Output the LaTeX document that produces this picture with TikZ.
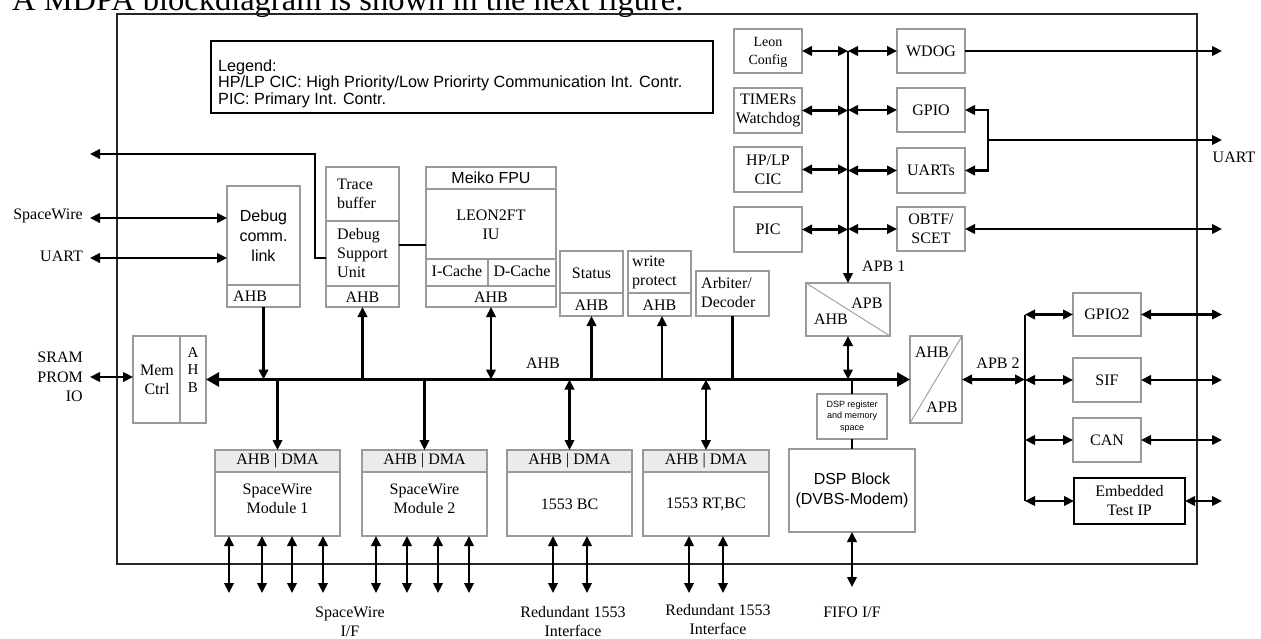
\documentclass[tikz,border=0pt]{standalone}
\usepackage{fontspec}
\setmainfont{Liberation Serif}
\setsansfont{Liberation Sans}
\usetikzlibrary{arrows.meta}
\definecolor{boxgray}{HTML}{9A9A9A}
\definecolor{hdrgray}{HTML}{EBEBEB}
\newcommand\bx[6][]{\node[box,anchor=north west,minimum width={#4pt-#2pt},minimum height={#5pt-#3pt},#1] (#6) at (#2,#3) {};}
\begin{document}
\begin{tikzpicture}[x=1pt,y=-1pt,
 box/.style={draw=boxgray,line width=1.1pt,inner sep=0pt,outer sep=0pt},
 >={Triangle[length=10pt,width=9.5pt]},
 wire/.style={line width=2.2pt},
 buswire/.style={line width=2.6pt,{Triangle[length=13pt,width=14pt]}-{Triangle[length=13pt,width=14pt]}},
 diag/.style={draw=boxgray,line width=0.9pt},
 txt/.style={font=\fontsize{16}{19}\selectfont,inner sep=0pt,align=center},
 tl/.style={txt,align=left,anchor=west},
 stxt/.style={font=\sffamily\fontsize{16}{20}\selectfont,inner sep=0pt,align=center},
 lgd/.style={font=\sffamily\fontsize{16.2}{18}\selectfont,inner sep=0pt,anchor=base west},
]
\useasboundingbox (0,0) rectangle (1261,638);
\fill[white] (0,0) rectangle (1261,638);
\begin{scope}
\clip (0,0) rectangle (1261,638);
\node[anchor=base west,inner sep=0pt,font=\fontsize{32.5}{38}\selectfont] (head) at (12,10.5) {A MDPA blockdiagram is shown in the next figure.};
\end{scope}

% frame and legend
\bx[draw=black!85,line width=1.3pt]{117}{14}{1197}{564}{frame}
\bx[draw=black,line width=1.2pt]{211}{41}{713}{113}{legend}
\node[lgd] (lg1) at (218,71) {Legend:};
\node[lgd] (lg2) at (218,87) {HP/LP CIC: High Priority/Low Priorirty Communication Int. Contr.};
\node[lgd] (lg3) at (218,104) {PIC: Primary Int. Contr.};

% boxes
\bx{227}{186}{300}{285}{dcl}
\bx{227}{285}{300}{307}{dclahb}
\bx{326}{167}{399}{221}{trace}
\bx{326}{221}{399}{286}{dsu}
\bx{326}{286}{399}{307}{dsuahb}
\bx{426}{167}{556}{189}{fpu}
\bx{426}{189}{556}{259}{leon}
\bx{426}{259}{488}{286}{icache}
\bx{488}{259}{556}{286}{dcache}
\bx{426}{286}{556}{307}{leonahb}
\bx{560}{251}{623}{293}{status}
\bx{560}{293}{623}{316}{statusahb}
\bx{628}{251}{691}{293}{wp}
\bx{628}{293}{691}{316}{wpahb}
\bx{696}{271}{769}{316}{arb}
\bx{133}{336}{180}{423}{memctrl}
\bx{180}{336}{206}{423}{memahb}
\bx[fill=hdrgray]{215}{450}{340}{472}{sw1hdr}
\bx{215}{472}{340}{536}{sw1}
\bx[fill=hdrgray]{362}{450}{487}{472}{sw2hdr}
\bx{362}{472}{487}{536}{sw2}
\bx[fill=hdrgray]{507}{450}{632}{472}{bchdr}
\bx{507}{472}{632}{536}{bc}
\bx[fill=hdrgray]{643}{450}{769}{472}{rthdr}
\bx{643}{472}{769}{536}{rt}
\bx{817}{394}{887}{439}{dspreg}
\bx{789}{449}{915}{532}{dsp}
\bx{806}{283}{890}{336}{conv1}
\bx{910}{336}{962}{423}{conv2}
\bx{734}{29}{802}{73}{lcfg}
\bx{734}{88}{802}{133}{timers}
\bx{734}{147}{802}{192}{hplp}
\bx{734}{207}{802}{252}{pic}
\bx{897}{29}{965}{73}{wdog}
\bx{897}{88}{965}{132}{gpio}
\bx{897}{148}{965}{193}{uarts}
\bx{897}{207}{965}{251}{obtf}
\bx{1073}{293}{1141}{336}{gpio2}
\bx{1073}{358}{1141}{402}{sif}
\bx{1073}{418}{1141}{462}{can}
\bx[draw=black,line width=1.3pt]{1074}{478}{1185}{524}{eti}
\draw[diag] (conv1.north west) -- (conv1.south east);
\draw[diag] (conv2.south west) -- (conv2.north east);

% box texts
\node[stxt] (tdcl) at (263.5,236) {Debug\\comm.\\link};
\node[txt,anchor=west] (tdclahb) at (233,296) {AHB};
\node[tl] (ttrace) at (337,194) {Trace\\buffer};
\node[tl] (tdsu) at (337,253) {Debug\\Support\\Unit};
\node[txt] (tdsuahb) at (362.5,297) {AHB};
\node[stxt] (tfpu) at (491,178) {Meiko FPU};
\node[txt] (tleon) at (491,225) {LEON2FT\\IU};
\node[txt] (tic) at (457,271) {I-Cache};
\node[txt] (tdc) at (522,271) {D-Cache};
\node[txt] (tleonahb) at (491,297) {AHB};
\node[txt] (tstatus) at (591.5,273) {Status};
\node[txt] (tstatusahb) at (591.5,305) {AHB};
\node[tl] (twp) at (632,272) {write\\protect};
\node[txt] (twpahb) at (659.5,305) {AHB};
\node[tl] (tarb) at (701,293) {Arbiter/\\Decoder};
\node[txt] (tmem) at (157,379.5) {Mem\\Ctrl};
\node[txt,font=\fontsize{15}{17.5}\selectfont] (tmemahb) at (193,370) {A\\H\\B};
\node[txt] (tsw1h) at (277.5,461) {AHB | DMA};
\node[txt] (tsw1) at (277.5,498.5) {SpaceWire\\Module 1};
\node[txt] (tsw2h) at (424.5,461) {AHB | DMA};
\node[txt] (tsw2) at (424.5,498.5) {SpaceWire\\Module 2};
\node[txt] (tbch) at (569.5,461) {AHB | DMA};
\node[txt] (tbc) at (569.5,504) {1553 BC};
\node[txt] (trth) at (706,461) {AHB | DMA};
\node[txt] (trt) at (706,504) {1553 RT,BC};
\node[font=\sffamily\fontsize{9}{11.5}\selectfont,align=center,inner sep=0pt] (tdspreg) at (852,416.5) {DSP register\\and memory\\space};
\node[stxt] (tdsp) at (852,490.5) {DSP Block\\(DVBS-Modem)};
\node[txt] (tc1a) at (867,303) {APB};
\node[txt] (tc1b) at (831,319) {AHB};
\node[txt] (tc2a) at (932,352) {AHB};
\node[txt] (tc2b) at (942,407) {APB};
\node[txt,font=\fontsize{14}{18}\selectfont] (tlcfg) at (768,52) {Leon\\Config};
\node[txt] (ttimers) at (768,110.5) {TIMERs\\Watchdog};
\node[txt] (thplp) at (768,169.5) {HP/LP\\CIC};
\node[txt] (tpic) at (768,229.5) {PIC};
\node[txt] (twdog) at (931,51) {WDOG};
\node[txt] (tgpio) at (931,110) {GPIO};
\node[txt] (tuarts) at (931,170.5) {UARTs};
\node[txt] (tobtf) at (931,229) {OBTF/\\SCET};
\node[txt] (tgpio2) at (1107,314.5) {GPIO2};
\node[txt] (tsif) at (1107,380) {SIF};
\node[txt] (tcan) at (1107,440) {CAN};
\node[txt] (teti) at (1129.5,501) {Embedded\\Test IP};

% outside labels
\node[txt,anchor=east] (lsw) at (83,216) {SpaceWire};
\node[txt,anchor=east] (lua) at (83,256) {UART};
\node[txt,anchor=east,align=right,font=\fontsize{16}{19.5}\selectfont] (lsr) at (83,377) {SRAM\\PROM\\IO};
\node[txt] (luart) at (1234,157) {UART};
\node[txt] (lswif) at (350,622) {SpaceWire\\I/F};
\node[txt] (lr1) at (573,622) {Redundant 1553\\Interface};
\node[txt] (lr2) at (718,620) {Redundant 1553\\Interface};
\node[txt] (lfifo) at (852,612) {FIFO I/F};
\node[txt] (lahb) at (543,363) {AHB};
\node[txt,anchor=west] (lapb1) at (862,266) {APB 1};
\node[txt] (lapb2) at (998,363) {APB 2};

% coordinates
\coordinate (swL) at (90,218);
\coordinate (uaL) at (90,258);
\coordinate (srL) at (90,377);
\coordinate (tbout) at (90,154);
\coordinate (tbk) at (315,258);
\coordinate (dl) at (0,245);
\coordinate (bus) at (0,379.5);
\coordinate (wpx) at (662,0);
\coordinate (apb1) at (848,51);
\coordinate (gu) at (988,140);
\coordinate (wdogR) at (1222,51);
\coordinate (uartR) at (1222,140);
\coordinate (obtfR) at (1222,229);
\coordinate (apb2) at (1025,379.5);
\coordinate (apb2top) at (1025,314.5);
\coordinate (apb2bot) at (1025,501);
\coordinate (rgt) at (1222,0);
\coordinate (bot) at (0,593);
\coordinate (fifo) at (852,587);

% left side
\draw[wire,<->] (swL) -- (dcl.west |- swL);
\draw[wire,<->] (uaL) -- (dcl.west |- uaL);
\draw[wire,<->] (srL) -- (memctrl.west |- srL);
\draw[wire,->] (dsu.west |- tbk) -- (tbk) |- (tbout);
\draw[wire] (dsu.east |- dl) -- (leon.west |- dl);

% AHB bus
\draw[buswire] (memahb.east) -- (conv2.west);
\draw[wire,->] (dclahb.south) -- (dclahb.south |- bus);
\draw[wire,->] (dsuahb.south |- bus) -- (dsuahb.south);
\draw[wire,<->] (leonahb.south) -- (leonahb.south |- bus);
\draw[wire,->] (statusahb.south |- bus) -- (statusahb.south);
\draw[wire,->] (wpx |- bus) -- (wpx |- wpahb.south);
\draw[wire] (arb.south) -- (arb.south |- bus);
\draw[wire,<->] (conv1.south) -- (conv1.south |- bus);
\draw[wire] (dspreg.north |- bus) -- (dspreg.north);
\draw[wire] (dspreg.south) -- (dsp.north);
\draw[wire,<->] (dsp.south) -- (fifo);
\draw[wire,->] (sw1hdr.north |- bus) -- (sw1hdr.north);
\draw[wire,->] (sw2hdr.north |- bus) -- (sw2hdr.north);
\draw[wire,<->] (bchdr.north |- bus) -- (bchdr.north);
\draw[wire,<->] (rthdr.north |- bus) -- (rthdr.north);

% bottom interfaces
\foreach \x in {229,262,292,323} \draw[wire,<->] (sw1.south -| \x,0) -- (\x,0 |- bot);
\foreach \x in {376,407,438,469} \draw[wire,<->] (sw2.south -| \x,0) -- (\x,0 |- bot);
\foreach \x in {553,587} \draw[wire,<->] (bc.south -| \x,0) -- (\x,0 |- bot);
\foreach \x in {689,723} \draw[wire,<->] (rt.south -| \x,0) -- (\x,0 |- bot);

% APB 1
\draw[wire,->] (apb1) -- (conv1.north);
\foreach \l/\r in {lcfg/wdog,timers/gpio,hplp/uarts,pic/obtf}{
  \draw[wire,<->] (\l.east) -- (\l.east -| apb1);
  \draw[wire,<->] (\r.west -| apb1) -- (\r.west);
}
\draw[wire,->] (wdog.east) -- (wdogR);
\draw[wire,<->] (gpio.east) -| (gu) |- (uarts.east);
\draw[wire,->] (gu) -- (uartR);
\draw[wire,<->] (obtf.east) -- (obtfR);

% APB 2
\draw[wire,<->] (conv2.east) -- (apb2);
\draw[wire] (apb2top) -- (apb2bot);
\foreach \b in {gpio2,sif,can,eti}{
  \draw[wire,<->] (\b.west -| apb2) -- (\b.west);
  \draw[wire,<->] (\b.east) -- (\b.east -| rgt);
}
\end{tikzpicture}
\end{document}
